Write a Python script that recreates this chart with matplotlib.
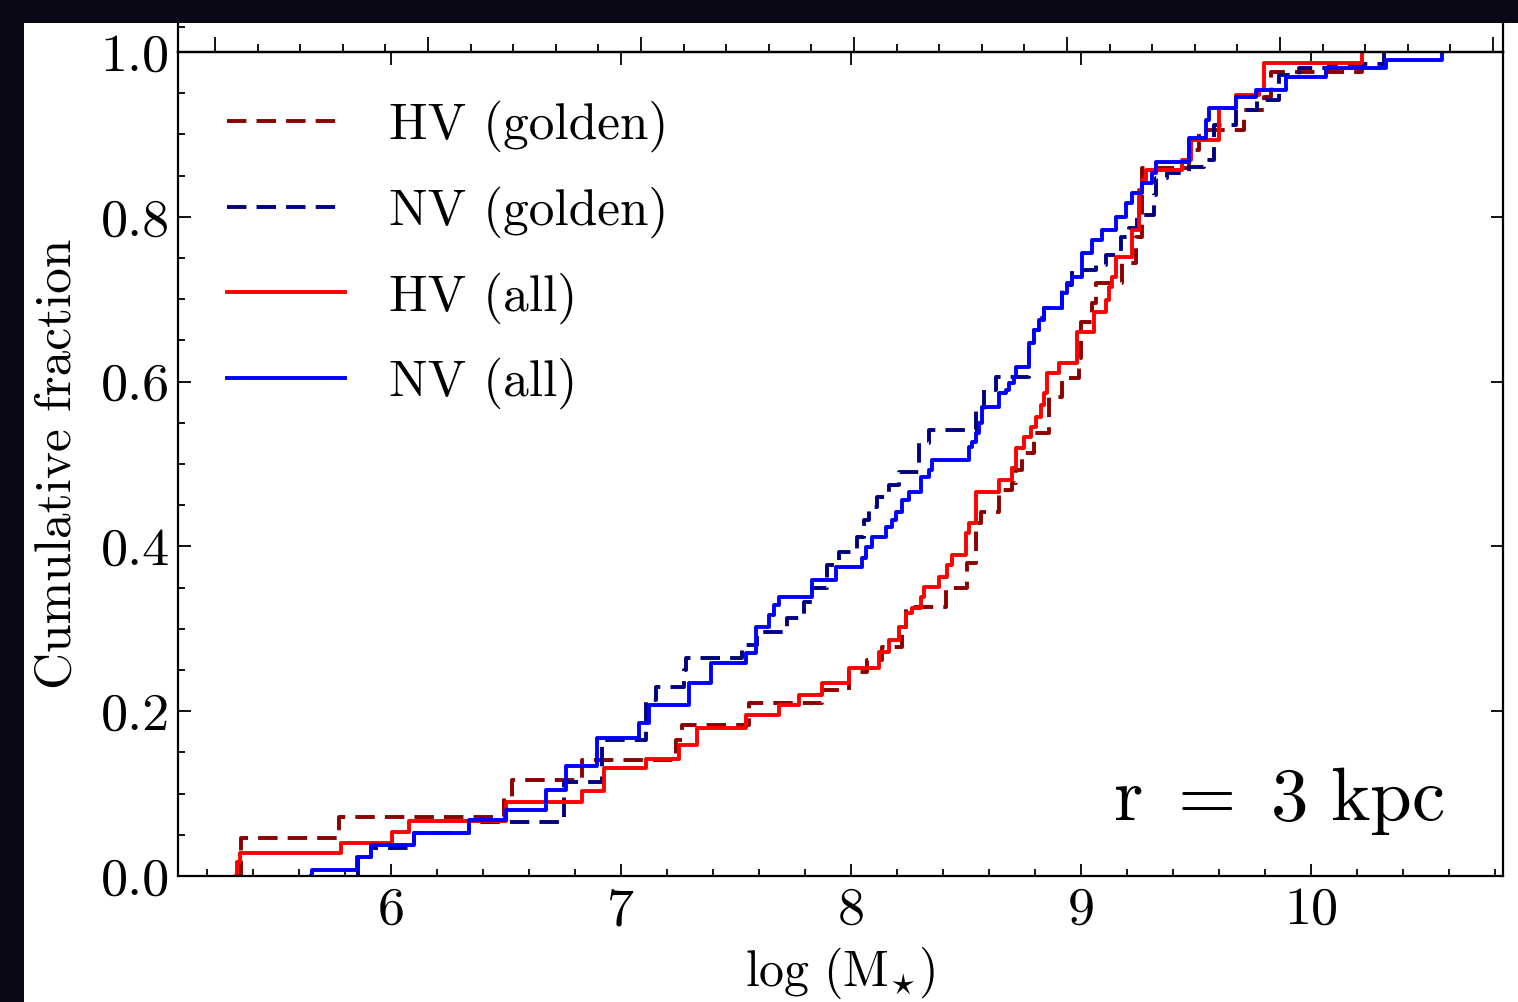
import numpy as np
import matplotlib
matplotlib.use("Agg")
import matplotlib.pyplot as plt
from matplotlib.patches import Rectangle
from matplotlib.ticker import MultipleLocator, FixedLocator

plt.rcParams['font.family'] = 'serif'
plt.rcParams['font.serif'] = ['cmr10', 'DejaVu Serif']
plt.rcParams['mathtext.fontset'] = 'cm'
plt.rcParams['axes.formatter.use_mathtext'] = True

# cumulative step curves: x = log(M*), y = cumulative fraction after each step
hv_gold_x = [5.330, 5.348, 5.774, 6.491, 6.526, 6.830, 7.239, 7.265, 7.557, 7.874, 7.991, 8.070, 8.135,
             8.222, 8.239, 8.413, 8.504, 8.543, 8.565, 8.643, 8.700, 8.717, 8.743, 8.796, 8.861, 8.917,
             8.991, 9.000, 9.048, 9.065, 9.178, 9.239, 9.265, 9.470, 9.513, 9.709, 9.796, 9.826, 10.222]
hv_gold_y = [0.0, 0.046, 0.072, 0.096, 0.117, 0.141, 0.165, 0.183, 0.210, 0.226, 0.248, 0.262, 0.278,
             0.302, 0.326, 0.350, 0.380, 0.428, 0.442, 0.468, 0.477, 0.493, 0.513, 0.538, 0.581, 0.604,
             0.629, 0.672, 0.695, 0.720, 0.744, 0.775, 0.859, 0.881, 0.905, 0.930, 0.945, 0.976, 1.0]

nv_gold_x = [5.852, 5.855, 5.913, 6.100, 6.339, 6.752, 6.917, 7.109, 7.152, 7.274, 7.283, 7.526, 7.591,
             7.722, 7.796, 7.830, 7.896, 7.948, 8.026, 8.057, 8.078, 8.113, 8.165, 8.209, 8.296, 8.339,
             8.543, 8.578, 8.630, 8.774, 8.796, 8.817, 8.839, 8.917, 8.961, 9.065, 9.109, 9.174, 9.209,
             9.243, 9.317, 9.326, 9.374, 9.470, 9.535, 9.578, 9.674, 9.765, 9.861, 9.948, 10.078, 10.317]
nv_gold_y = [0.0, 0.023, 0.034, 0.052, 0.066, 0.114, 0.165, 0.214, 0.229, 0.250, 0.265, 0.280, 0.296,
             0.313, 0.333, 0.350, 0.377, 0.393, 0.411, 0.432, 0.448, 0.460, 0.475, 0.490, 0.525, 0.541,
             0.566, 0.590, 0.606, 0.647, 0.663, 0.677, 0.689, 0.717, 0.735, 0.742, 0.754, 0.775, 0.786,
             0.802, 0.826, 0.847, 0.853, 0.860, 0.869, 0.911, 0.930, 0.942, 0.972, 0.981, 0.985, 1.0]

hv_all_x = [5.326, 5.330, 5.343, 5.783, 6.004, 6.078, 6.500, 6.830, 6.926, 7.109, 7.252, 7.330, 7.543,
            7.687, 7.774, 7.874, 7.991, 8.122, 8.165, 8.209, 8.239, 8.265, 8.304, 8.317, 8.383, 8.417,
            8.439, 8.500, 8.513, 8.543, 8.643, 8.700, 8.717, 8.752, 8.783, 8.804, 8.826, 8.839, 8.852,
            8.904, 8.983, 9.057, 9.109, 9.122, 9.135, 9.152, 9.222, 9.252, 9.265, 9.283, 9.439, 9.478,
            9.600, 9.674, 9.774, 9.796, 10.222]
hv_all_y = [0.0, 0.017, 0.028, 0.040, 0.053, 0.067, 0.090, 0.103, 0.131, 0.142, 0.159, 0.180, 0.195,
            0.208, 0.220, 0.234, 0.252, 0.272, 0.286, 0.302, 0.319, 0.325, 0.339, 0.351, 0.363, 0.377,
            0.390, 0.416, 0.428, 0.466, 0.481, 0.495, 0.519, 0.533, 0.545, 0.557, 0.572, 0.586, 0.610,
            0.623, 0.660, 0.684, 0.699, 0.715, 0.727, 0.751, 0.784, 0.833, 0.845, 0.857, 0.869, 0.893,
            0.932, 0.948, 0.954, 0.987, 1.0]

nv_all_x = [5.652, 5.655, 5.852, 5.913, 6.100, 6.339, 6.500, 6.674, 6.761, 6.896, 7.078, 7.122, 7.296,
            7.391, 7.543, 7.587, 7.643, 7.665, 7.687, 7.830, 7.935, 8.048, 8.065, 8.091, 8.152, 8.178,
            8.196, 8.222, 8.252, 8.304, 8.339, 8.352, 8.513, 8.526, 8.543, 8.557, 8.570, 8.643, 8.674,
            8.687, 8.709, 8.717, 8.774, 8.796, 8.817, 8.839, 8.917, 8.939, 8.961, 9.004, 9.048, 9.091,
            9.152, 9.196, 9.222, 9.265, 9.309, 9.326, 9.470, 9.543, 9.557, 9.674, 9.761, 9.891, 10.065,
            10.326, 10.570]
nv_all_y = [0.0, 0.007, 0.023, 0.038, 0.052, 0.068, 0.080, 0.104, 0.133, 0.167, 0.186, 0.208, 0.234,
            0.258, 0.271, 0.302, 0.317, 0.329, 0.339, 0.359, 0.375, 0.386, 0.399, 0.411, 0.424, 0.432,
            0.442, 0.456, 0.466, 0.484, 0.493, 0.505, 0.521, 0.527, 0.538, 0.550, 0.569, 0.586, 0.590,
            0.598, 0.606, 0.618, 0.647, 0.663, 0.675, 0.689, 0.708, 0.720, 0.727, 0.756, 0.772, 0.784,
            0.800, 0.817, 0.829, 0.841, 0.853, 0.867, 0.896, 0.917, 0.932, 0.945, 0.954, 0.970, 0.981,
            0.990, 1.0]

x_ticks = [6, 7, 8, 9, 10]
x_labels = ['6', '7', '8', '9', '10']
y_ticks = [0.0, 0.2, 0.4, 0.6, 0.8, 1.0]
y_labels = ['0.0', '0.2', '0.4', '0.6', '0.8', '1.0']

W, H = 1518, 1002
fig = plt.figure(figsize=(W / 100, H / 100), dpi=100)
fig.patch.set_facecolor('white')

L, R, B, T = 178 / W, 1503 / W, 1 - 876 / H, 1 - 52 / H
ax = fig.add_axes([L, B, R - L, T - B])

lw = 2.8
ax.step(hv_gold_x, hv_gold_y, where='post', color='#8b0000', lw=lw, dashes=(5, 2.6), label='HV (golden)')
ax.step(nv_gold_x, nv_gold_y, where='post', color='#000080', lw=lw, dashes=(5, 2.6), label='NV (golden)')
ax.step(hv_all_x, hv_all_y, where='post', color='red', lw=lw, label='HV (all)')
ax.step(nv_all_x, nv_all_y, where='post', color='blue', lw=lw, label='NV (all)')

ax.set_xlim(5.074, 10.835)
ax.set_ylim(0, 1.0)
ax.xaxis.set_major_locator(FixedLocator(x_ticks))
ax.set_xticklabels(x_labels)
ax.xaxis.set_minor_locator(MultipleLocator(0.2))
ax.yaxis.set_major_locator(FixedLocator(y_ticks))
ax.set_yticklabels(y_labels)
ax.yaxis.set_minor_locator(MultipleLocator(0.05))

ax.tick_params(which='both', direction='in', top=True, right=True, labelsize=39, width=1.3)
ax.tick_params(which='major', length=9)
ax.tick_params(which='minor', length=5, top=False, right=False)
ax.tick_params(axis='x', pad=8)
ax.tick_params(axis='y', pad=6)
for s in ax.spines.values():
    s.set_linewidth(1.6)

ax.set_xlabel(r'$\mathrm{log\ (M_{\star})}$', fontsize=36, labelpad=8)
ax.set_ylabel('Cumulative fraction', fontsize=37, labelpad=14)

ax.text(0.956, 0.068, r'$\mathrm{r\ =\ 3\ kpc}$', transform=ax.transAxes,
        ha='right', va='baseline', fontsize=54)

ax.legend(loc='upper left', bbox_to_anchor=(0, 1), borderaxespad=0, borderpad=0.95,
          frameon=False, fontsize=37, handlelength=2.3, handletextpad=0.85, labelspacing=0.66)

# panel above (cut off by the crop): only its bottom edge and lower spines show
up = fig.add_axes([L, T, R - L, 0.1])
up.set_facecolor('none')
up.set_xlim(-0.174, 6.047)
up.set_ylim(0, 4)
up.xaxis.set_major_locator(MultipleLocator(1))
up.xaxis.set_minor_locator(MultipleLocator(0.2))
up.yaxis.set_major_locator(FixedLocator([1]))
up.tick_params(which='both', direction='in', labelbottom=False, labelleft=False, width=1.3)
up.tick_params(which='major', length=11)
up.tick_params(which='minor', length=6)
up.tick_params(axis='y', length=5)
up.spines['top'].set_visible(False)
for s in up.spines.values():
    s.set_linewidth(1.6)

# dark border strips of the screenshot
dark = '#0a0716'
fig.patches.append(Rectangle((0, 0), 24 / W, 1, transform=fig.transFigure,
                             facecolor=dark, edgecolor='none', zorder=10))
fig.patches.append(Rectangle((0, 1 - 23 / H), 1, 23 / H, transform=fig.transFigure,
                             facecolor=dark, edgecolor='none', zorder=10))

fig.savefig('out.png', dpi=100)
